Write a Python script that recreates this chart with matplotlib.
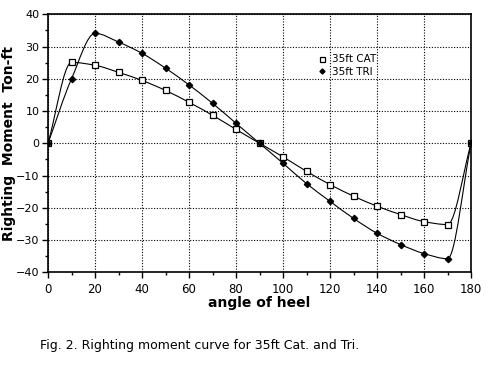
import numpy as np
import matplotlib
matplotlib.use('Agg')
import matplotlib.pyplot as plt
from matplotlib.path import Path
from matplotlib.patches import PathPatch
from matplotlib.ticker import MultipleLocator

# heel angle (deg) and righting moment (ton-ft)
angle = [0, 10, 20, 30, 40, 50, 60, 70, 80, 90, 100, 110, 120, 130, 140, 150, 160, 170, 180]
cat_rm = [0, 25.1, 24.2, 22.0, 19.5, 16.4, 12.7, 8.7, 4.3, 0, -4.2, -8.7, -12.8, -16.4, -19.5,
          -22.1, -24.3, -25.2, 0]
tri_rm = [0, 20.0, 34.1, 31.4, 27.9, 23.3, 18.1, 12.4, 6.2, 0, -6.2, -12.5, -18.0, -23.3, -27.9,
          -31.4, -34.2, -35.8, 0]

x_ticks = [0, 20, 40, 60, 80, 100, 120, 140, 160, 180]
y_ticks = [-40, -30, -20, -10, 0, 10, 20, 30, 40]


def smooth_path(x, y):
    # monotone cubic (fritsch-carlson) through the points, as bezier segments
    x = np.asarray(x, float)
    y = np.asarray(y, float)
    h = np.diff(x)
    d = np.diff(y) / h
    m = np.zeros_like(y)
    m[0], m[-1] = d[0], d[-1]
    for i in range(1, len(y) - 1):
        if d[i - 1] * d[i] > 0:
            w1 = 2 * h[i] + h[i - 1]
            w2 = h[i] + 2 * h[i - 1]
            m[i] = (w1 + w2) / (w1 / d[i - 1] + w2 / d[i])
    verts = [(x[0], y[0])]
    codes = [Path.MOVETO]
    for i in range(len(x) - 1):
        verts += [(x[i] + h[i] / 3, y[i] + m[i] * h[i] / 3),
                  (x[i + 1] - h[i] / 3, y[i + 1] - m[i + 1] * h[i] / 3),
                  (x[i + 1], y[i + 1])]
        codes += [Path.CURVE4] * 3
    return Path(verts, codes)


fig = plt.figure(figsize=(4.96, 3.65), dpi=100)
ax = fig.add_axes([0.0968, 0.254, 0.853, 0.7068])

for ys in (cat_rm, tri_rm):
    ax.add_patch(PathPatch(smooth_path(angle, ys), fill=False, lw=0.8, color='black'))

ax.plot(angle, cat_rm, ls='none', marker='s', ms=4.5, mfc='white', mec='black', mew=0.9,
        label='35ft CAT')
ax.plot(angle, tri_rm, ls='none', marker='D', ms=3.2, mfc='black', mec='black',
        label='35ft TRI')

ax.set_xlim(0, 180)
ax.set_ylim(-40, 40)
ax.set_xticks(x_ticks)
ax.set_yticks(y_ticks)
ax.xaxis.set_minor_locator(MultipleLocator(10))
ax.yaxis.set_minor_locator(MultipleLocator(5))
ax.tick_params(which='major', direction='out', length=4, width=1, labelsize=8.5, colors='black')
ax.tick_params(axis='y', which='major', labelsize=8, pad=2)
ax.tick_params(which='minor', direction='out', length=2, width=1)
ax.grid(True, which='major', ls=(0, (1, 1.5)), lw=0.8, color='black')
for s in ax.spines.values():
    s.set_linewidth(1.2)

ax.set_xlabel('angle of heel', fontsize=10, fontweight='bold', labelpad=0)
ax.set_ylabel('Righting  Moment  Ton-ft', fontsize=10, fontweight='bold')
ax.yaxis.set_label_coords(-0.075, 0.5)

leg = ax.legend(loc='upper left', bbox_to_anchor=(0.625, 0.865), frameon=False, fontsize=7.5,
                handlelength=0.8, handletextpad=0.6, labelspacing=0.25, borderpad=0,
                markerscale=0.8)

fig.text(0.081, 0.045, 'Fig. 2. Righting moment curve for 35ft Cat. and Tri.', fontsize=9)

fig.savefig('out.png', dpi=100)
